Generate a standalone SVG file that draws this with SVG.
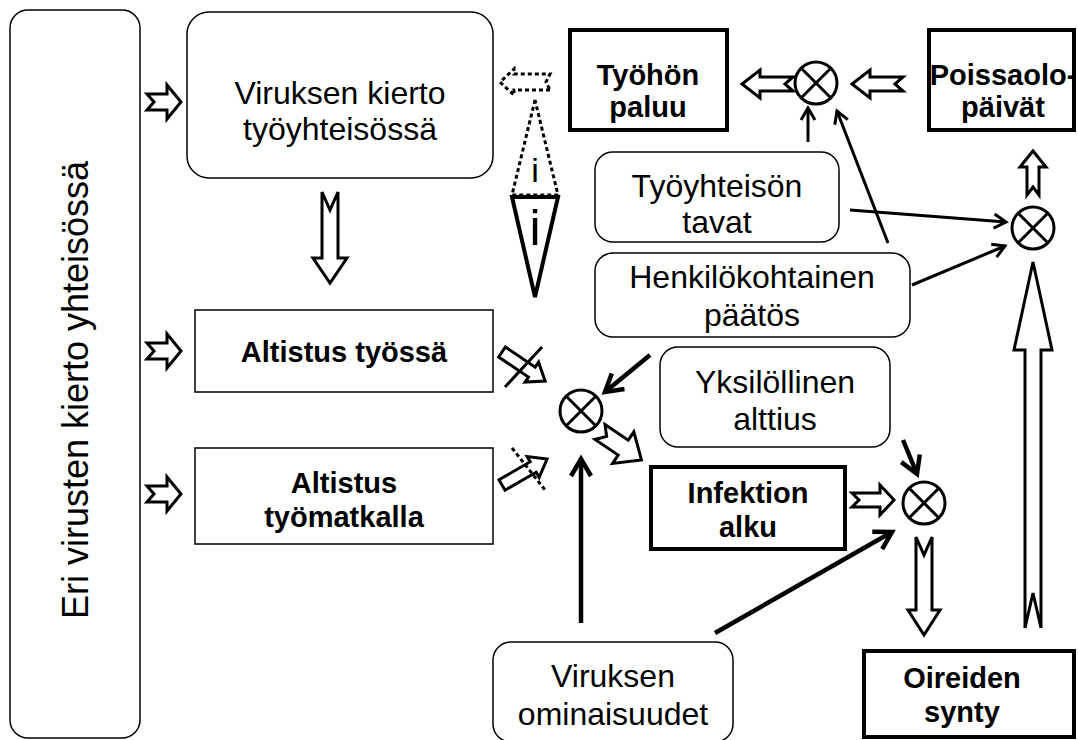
<svg xmlns="http://www.w3.org/2000/svg" width="1078" height="740" viewBox="0 0 1078 740">
<defs>
<style>
.box{fill:#fff;stroke:#000;stroke-width:1.5}
.thick{fill:#fff;stroke:#000;stroke-width:4}
.t{font-family:"Liberation Sans",Arial,sans-serif;font-size:32px;text-anchor:middle;fill:#000}
.b{font-family:"Liberation Sans",Arial,sans-serif;font-size:29px;font-weight:bold;text-anchor:middle;fill:#000}
.ba{fill:#fff;stroke:#000;stroke-width:3;stroke-linejoin:miter}
.ln{fill:none;stroke:#000;stroke-width:3}
.ln2{fill:none;stroke:#000;stroke-width:4.5}
.dot{fill:none;stroke:#000;stroke-width:3;stroke-dasharray:4 3}
.ox{fill:#fff;stroke:#000;stroke-width:3}
</style>
<marker id="ah" markerUnits="userSpaceOnUse" markerWidth="20" markerHeight="20" refX="15" refY="10" orient="auto">
<path d="M3,3 L15,10 L3,17" fill="none" stroke="#000" stroke-width="3"/>
</marker>
<marker id="ah2" markerUnits="userSpaceOnUse" markerWidth="26" markerHeight="26" refX="20" refY="13" orient="auto">
<path d="M3,3 L20,13 L3,23" fill="none" stroke="#000" stroke-width="4.5"/>
</marker>
<g id="otimes">
<circle cx="0" cy="0" r="21" class="ox"/>
<path d="M-14.5,-14.5 L14.5,14.5 M14.5,-14.5 L-14.5,14.5" class="ln"/>
</g>
</defs>
<rect width="1078" height="740" fill="#fff"/>

<g id="n-community">
<rect x="10" y="10" width="130" height="728" rx="18" class="box"/>
<text class="t" transform="translate(88,390) rotate(-90)" style="font-size:36px">Eri virusten kierto yhteisössä</text>
</g>
<g id="n-kierto">
<rect x="187" y="12" width="306" height="166" rx="22" class="box"/>
<text class="t" x="340" y="104">Viruksen kierto</text>
<text class="t" x="340" y="140">työyhteisössä</text>
</g>
<g id="n-altistus-tyo">
<rect x="195" y="310" width="298" height="82" class="box"/>
<text class="b" x="344" y="362">Altistus työssä</text>
</g>
<g id="n-altistus-matka">
<rect x="195" y="448" width="298" height="96" class="box"/>
<text class="b" x="344" y="493">Altistus</text>
<text class="b" x="344" y="527">työmatkalla</text>
</g>
<g id="n-paluu">
<rect x="570" y="30" width="157" height="100" class="thick"/>
<text class="b" x="648" y="85">Työhön</text>
<text class="b" x="648" y="117">paluu</text>
</g>
<g id="n-poissaolo">
<rect x="929" y="30" width="145" height="100" class="thick"/>
<text class="b" x="1003" y="85">Poissaolo-</text>
<text class="b" x="1003" y="117">päivät</text>
</g>
<g id="n-tavat">
<rect x="595" y="152" width="244" height="90" rx="18" class="box"/>
<text class="t" x="717" y="197">Työyhteisön</text>
<text class="t" x="717" y="233">tavat</text>
</g>
<g id="n-paatos">
<rect x="595" y="253" width="315" height="84" rx="18" class="box"/>
<text class="t" x="752" y="288">Henkilökohtainen</text>
<text class="t" x="752" y="326">päätös</text>
</g>
<g id="n-alttius">
<rect x="660" y="347" width="230" height="100" rx="18" class="box"/>
<text class="t" x="775" y="393">Yksilöllinen</text>
<text class="t" x="775" y="430">alttius</text>
</g>
<g id="n-infektio">
<rect x="651" y="467" width="194" height="82" class="thick"/>
<text class="b" x="748" y="503">Infektion</text>
<text class="b" x="748" y="537">alku</text>
</g>
<g id="n-oireet">
<rect x="864" y="651" width="210" height="86" class="thick"/>
<text class="b" x="962" y="688">Oireiden</text>
<text class="b" x="962" y="722">synty</text>
</g>
<g id="n-ominaisuudet">
<rect x="493" y="642" width="240" height="100" rx="18" class="box"/>
<text class="t" x="613" y="687">Viruksen</text>
<text class="t" x="613" y="725">ominaisuudet</text>
</g>
<g id="n-ox-top"><use href="#otimes" x="816" y="83"/></g>
<g id="n-ox-right"><use href="#otimes" x="1033" y="228"/></g>
<g id="n-ox-mid"><use href="#otimes" x="581" y="411"/></g>
<g id="n-ox-bottom"><use href="#otimes" x="924" y="503"/></g>
<g id="n-i">
<polygon points="535,100 512,195 558,195" class="dot"/>
<text class="t" x="535" y="182" style="font-size:34px">i</text>
<polygon points="512,197 558,197 535,297" fill="#fff" stroke="#000" stroke-width="4" stroke-linejoin="miter"/>
<text class="t" x="535" y="245" style="font-size:50px">i</text>
</g>

<g id="connectors">
<polygon class="ba" transform="translate(147,102)" points="0,-8 20,-8 20,-17 34,0 20,17 20,8 0,8 7,0"/>
<polygon class="ba" transform="translate(147,351)" points="0,-8 20,-8 20,-17 34,0 20,17 20,8 0,8 7,0"/>
<polygon class="ba" transform="translate(147,494)" points="0,-8 20,-8 20,-17 34,0 20,17 20,8 0,8 7,0"/>
<polygon class="ba" transform="translate(330,192) rotate(90)" points="0,-8 66,-8 66,-17 91,0 66,17 66,8 0,8 18,0"/>
<polygon class="dot" transform="translate(550,82) rotate(180)" points="0,-8 36,-8 36,-13 50,0 36,13 36,8 0,8 4,0"/>
<polygon class="ba" transform="translate(793,84) rotate(180)" points="0,-7 33,-7 33,-14 51,0 33,14 33,7 0,7 8,0"/>
<polygon class="ba" transform="translate(903,84) rotate(180)" points="0,-7 33,-7 33,-14 51,0 33,14 33,7 0,7 8,0"/>
<polygon class="ba" transform="translate(1033,195) rotate(-90)" points="0,-6 28,-6 28,-13 44,0 28,13 28,6 0,6 8,0"/>
<polygon class="ba" transform="translate(1033,628) rotate(-90)" points="0,-8 278,-8 278,-19 366,0 278,19 278,8 0,8 35,0"/>
<polygon class="ba" transform="translate(852,500)" points="0,-7 28,-7 28,-15 42,0 28,15 28,7 0,7 7,0"/>
<polygon class="ba" transform="translate(924,537) rotate(90)" points="0,-8 73,-8 73,-16 98,0 73,16 73,8 0,8 18,0"/>
<polygon class="ba" transform="translate(600,432) rotate(34)" points="0,-9 28,-9 28,-19 50,0 28,19 28,9 0,9 8,0"/>
<polygon class="ba" transform="translate(502,352) rotate(34)" points="0,-6 36,-6 36,-12 52,0 36,12 36,6 0,6"/>
<line x1="505" y1="387" x2="542" y2="347" class="ln"/>
<polygon class="ba" transform="translate(502,485) rotate(-30)" points="0,-6 36,-6 36,-12 52,0 36,12 36,6 0,6"/>
<line x1="512" y1="448" x2="545" y2="490" class="dot"/>
<line x1="808" y1="142" x2="808" y2="108" class="ln" marker-end="url(#ah)"/>
<line x1="888" y1="243" x2="837" y2="111" class="ln" marker-end="url(#ah)"/>
<line x1="850" y1="210" x2="1006" y2="222" class="ln" marker-end="url(#ah)"/>
<line x1="912" y1="285" x2="1005" y2="246" class="ln" marker-end="url(#ah)"/>
<line x1="650" y1="355" x2="605" y2="392" class="ln2" marker-end="url(#ah2)"/>
<line x1="581" y1="623" x2="581" y2="459" class="ln2" marker-end="url(#ah2)"/>
<line x1="903" y1="440" x2="917" y2="474" class="ln2" marker-end="url(#ah2)"/>
<line x1="715" y1="633" x2="892" y2="532" class="ln2" marker-end="url(#ah2)"/>
</g>
</svg>
